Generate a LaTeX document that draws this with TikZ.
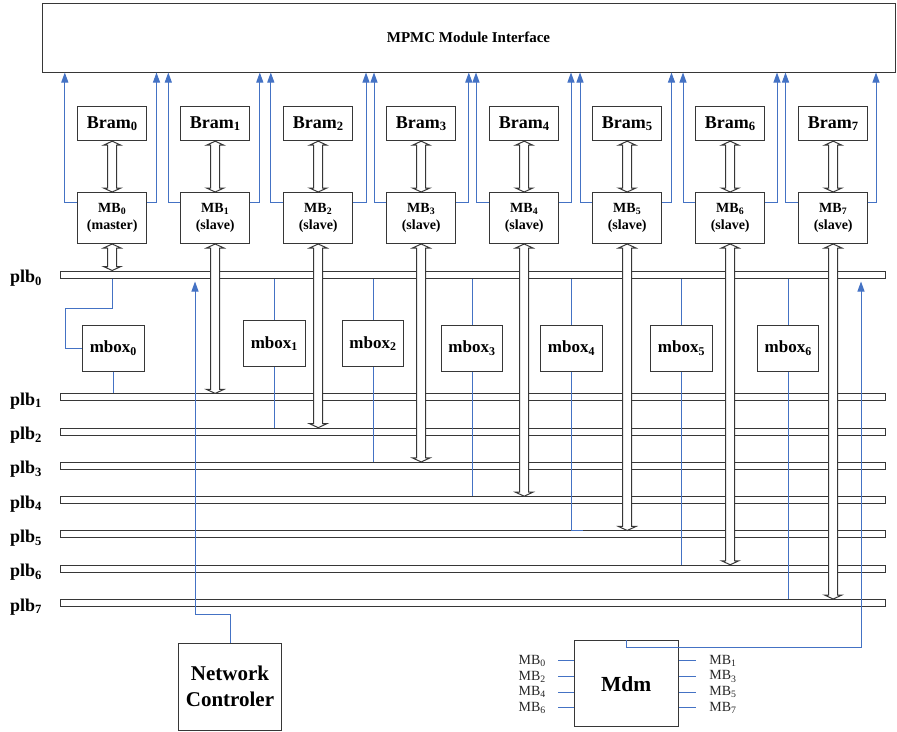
\documentclass[tikz,border=0pt]{standalone}
\usepackage{fontspec}
\setmainfont{Liberation Serif}
\usetikzlibrary{arrows.meta,calc}
\definecolor{bl}{RGB}{68,114,196}
\definecolor{ed}{RGB}{55,55,55}
\newcommand\sub[1]{\textsubscript{#1}}
\newcommand\dblarrow[2]{%
  \draw[dar] let \p1=(#1), \p2=(#2) in
   (\x1,\y1) -- (\x1+8.7pt,\y1-4pt) -- (\x1+4.5pt,\y1-4pt) -- (\x1+4.5pt,\y2+4pt)
   -- (\x1+8.7pt,\y2+4pt) -- (\x1,\y2) -- (\x1-8.7pt,\y2+4pt) -- (\x1-4.5pt,\y2+4pt)
   -- (\x1-4.5pt,\y1-4pt) -- (\x1-8.7pt,\y1-4pt) -- cycle;}
\begin{document}
\begin{tikzpicture}[x=1pt,y=-1pt,
  box/.style={draw=ed, line width=1pt, fill=white, inner sep=0pt, align=center},
  brambox/.style={box, minimum width=69pt, minimum height=34pt, font=\bfseries\fontsize{18}{20}\selectfont},
  mbbox/.style={box, minimum width=69pt, minimum height=51pt, font=\bfseries\fontsize{14}{17.5}\selectfont},
  mboxbox/.style={box, minimum width=61.5pt, minimum height=46pt, font=\bfseries\fontsize{17}{19}\selectfont},
  bar/.style={draw=ed, line width=1pt, fill=white, minimum width=825pt, minimum height=7pt, inner sep=0pt},
  barlabel/.style={anchor=base west, inner sep=0pt, font=\bfseries\fontsize{18}{20}\selectfont},
  blu/.style={draw=bl, line width=1pt},
  bluarrow/.style={blu, -{Triangle[length=10pt,width=7pt]}},
  dar/.style={draw=ed, line width=1pt, fill=white, line join=miter},
  mblabel/.style={inner sep=0pt, text=black!85, font=\fontsize{14}{14}\selectfont}
]
\useasboundingbox (0,0) rectangle (897,731);

% MPMC interface
\node[draw=ed, line width=1pt, minimum width=853pt, minimum height=69pt, inner sep=0pt,
      font=\bfseries\fontsize{15}{15}\selectfont] (mpmc) at (468.5,37.5) {MPMC Module Interface};

% Bram and MB boxes
\foreach \i/\r in {0/master,1/slave,2/slave,3/slave,4/slave,5/slave,6/slave,7/slave}{
  \node[brambox] (b\i) at ({112.2+103*\i},123.7) {Bram\sub{\i}};
  \node[mbbox] (m\i) at ({112.2+103*\i},218) {MB\sub{\i}\\(\r)};
}

% blue links MB -> MPMC
\foreach \i/\a/\b in {0/64.8/156.5, 1/168.3/259.8, 2/270.8/366, 3/374/468.8, 4/476/571, 5/580/671.5, 6/683/777, 7/785.5/876}{
  \draw[bluarrow] ([yshift=-10pt]m\i.north west) -| (\a,0 |- mpmc.south);
  \draw[bluarrow] ([yshift=-10pt]m\i.north east) -| (\b,0 |- mpmc.south);
}

% PLB buses
\node[bar] (plb0) at (472.5,274.5) {};
\node[barlabel] (l0) at (10,282.5) {plb\sub{0}};
\foreach \k in {1,...,7}{
  \node[bar] (plb\k) at (472.5,{397.4+34.27*(\k-1)}) {};
  \node[barlabel] (l\k) at (10,{405.4+34.27*(\k-1)}) {plb\sub{\k}};
}

% mboxes
\node[mboxbox] (x0) at (113.3,348) {mbox\sub{0}};
\node[mboxbox] (x1) at (274.3,343.5) {mbox\sub{1}};
\node[mboxbox] (x2) at (373,343.5) {mbox\sub{2}};
\node[mboxbox] (x3) at (472,348.2) {mbox\sub{3}};
\node[mboxbox] (x4) at (571.5,348.2) {mbox\sub{4}};
\node[mboxbox] (x5) at (681.5,348) {mbox\sub{5}};
\node[mboxbox] (x6) at (788.2,348) {mbox\sub{6}};

\draw[blu] (m0.south |- plb0.south) -- ++(0,30.3) -| ([xshift=-17pt]x0.west) -- (x0.west);
\draw[blu] (x0.south) -- (x0.south |- plb1.north);
\foreach \j/\n in {1/2,2/3,3/4,5/6,6/7}{
  \draw[blu] (x\j.north |- plb0.south) -- (x\j.north);
  \draw[blu] (x\j.south) -- (x\j.south |- plb\n.north);
}
\draw[blu] (x4.north |- plb0.south) -- (x4.north);
\draw[blu] (x4.south) -- (x4.south |- plb5.north) -- ++(11,0);

% Network controller
\node[box, minimum width=103.4pt, minimum height=86.7pt,
      font=\bfseries\fontsize{21}{26}\selectfont] (nc) at (230,686.7) {Network\\Controler};
\draw[bluarrow] (nc.north) -- ++(0,-28.3) -| ([yshift=-3pt]plb0.south -| 195,0);

% Mdm
\node[box, minimum width=104.3pt, minimum height=86pt,
      font=\bfseries\fontsize{21.5}{22}\selectfont] (md) at (626.2,683.7) {Mdm};
\draw[bluarrow] (md.north) -- ++(0,7.5) -| ([yshift=-3pt]plb0.south -| 861,0);
\foreach \y/\l/\r in {660.8/0/1, 676.5/2/3, 692.2/4/5, 707.9/6/7}{
  \draw[blu] (md.west |- 0,\y) -- ++(-15.7,0) node[mblabel, anchor=east, xshift=-11.6pt] (ml\l) {MB\sub{\l}};
  \draw[blu] (md.east |- 0,\y) -- ++(16.7,0) node[mblabel, anchor=west, xshift=13.3pt] (mr\r) {MB\sub{\r}};
}

% double arrows
\foreach \i in {0,...,7}{
  \dblarrow{b\i.south}{m\i.north}
}
\dblarrow{m0.south}{m0.south |- plb0.north}
\foreach \i in {1,...,7}{
  \dblarrow{m\i.south}{m\i.south |- plb\i.north}
}
\end{tikzpicture}
\end{document}
